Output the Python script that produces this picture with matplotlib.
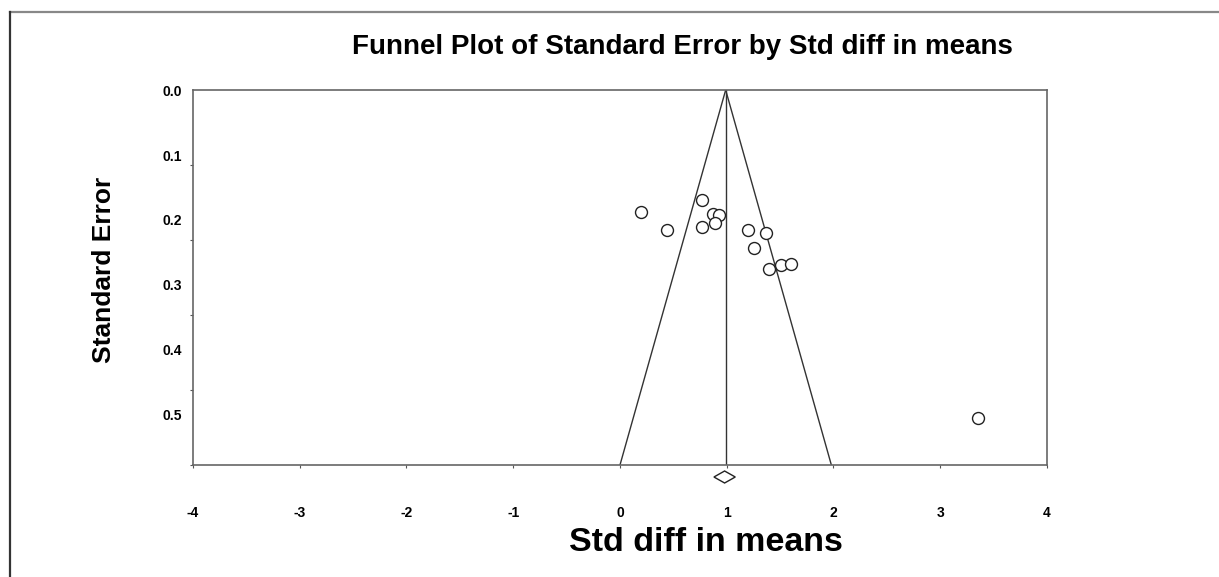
import numpy as np
import matplotlib.pyplot as plt
from matplotlib.lines import Line2D
from matplotlib.patches import Polygon
from matplotlib.transforms import blended_transform_factory

# study effects (Std diff in means) and their standard errors
effect = [0.20, 0.44, 0.77, 0.77, 0.87, 0.93, 0.89, 1.20, 1.37, 1.26, 1.40, 1.51, 1.60, 3.35]
std_err = [0.188, 0.215, 0.169, 0.211, 0.191, 0.193, 0.204, 0.216, 0.220, 0.243, 0.275, 0.269, 0.267, 0.505]

# pooled estimate and its confidence interval (diamond)
pooled = 0.98
pooled_ci = [0.88, 1.08]

# funnel: apex at the mean line, edges at the bottom of the axis
mean_line = 0.99
funnel_bottom = [0.0, 1.98]

se_max = 0.577
x_ticks = [-4, -3, -2, -1, 0, 1, 2, 3, 4]
y_ticks = [0.0, 0.1, 0.2, 0.3, 0.4, 0.5]

plt.rcParams["font.family"] = ["Liberation Sans", "DejaVu Sans"]
plt.rcParams["font.weight"] = "bold"

fig = plt.figure(figsize=(12.19, 5.77), dpi=100)
ax = fig.add_axes([0.1583, 0.1941, 0.7006, 0.6499])

line_col = "#333333"
ax.plot([mean_line, mean_line], [0, se_max], color=line_col, lw=1.0)
ax.plot([mean_line, funnel_bottom[0]], [0, se_max], color=line_col, lw=1.0)
ax.plot([mean_line, funnel_bottom[1]], [0, se_max], color=line_col, lw=1.0)

ax.plot(effect, std_err, "o", ms=8.6, mfc="white", mec="#222222", mew=1.0, clip_on=False, zorder=3)

# diamond below the axis
trans = blended_transform_factory(ax.transData, ax.transAxes)
diamond = Polygon([[pooled_ci[0], -0.032], [pooled, -0.016], [pooled_ci[1], -0.032], [pooled, -0.048]],
                  closed=True, fill=False, edgecolor="#222222", lw=1.0, transform=trans, clip_on=False)
ax.add_patch(diamond)

ax.set_xlim(-4, 4)
ax.set_ylim(se_max, 0)

ax.set_xticks(x_ticks)
ax.set_xticklabels([str(t) for t in x_ticks])
ax.tick_params(axis="x", direction="out", length=2.5, width=0.8, color="#555555", pad=27, labelsize=10)

# labels sit at 0.1 steps, tick marks split the axis into fifths
ax.set_yticks(y_ticks)
ax.set_yticklabels(["%.1f" % t for t in y_ticks])
ax.set_yticks(np.linspace(0, se_max, 6)[1:], minor=True)
ax.tick_params(axis="y", which="major", length=0, pad=8, labelsize=10)
ax.tick_params(axis="y", which="minor", direction="out", length=2.5, width=0.8, color="#555555")

for s in ax.spines.values():
    s.set_color("#666666")
    s.set_linewidth(1.2)

fig.text(0.5595, 0.9185, "Funnel Plot of Standard Error by Std diff in means",
         ha="center", va="center", fontsize=20, fontweight="bold")
fig.text(0.579, 0.059, "Std diff in means", ha="center", va="center", fontsize=24.5, fontweight="bold")
fig.text(0.0853, 0.532, "Standard Error", ha="center", va="center", rotation=90,
         fontsize=19, fontweight="bold")

# outer frame lines (top and left)
fig.add_artist(Line2D([10 / 1219, 1], [1 - 12 / 577, 1 - 12 / 577], color="#888888", lw=1.6))
fig.add_artist(Line2D([10 / 1219, 10 / 1219], [0, 1 - 12 / 577], color="#333333", lw=1.6))

fig.savefig("out.png", dpi=100)
